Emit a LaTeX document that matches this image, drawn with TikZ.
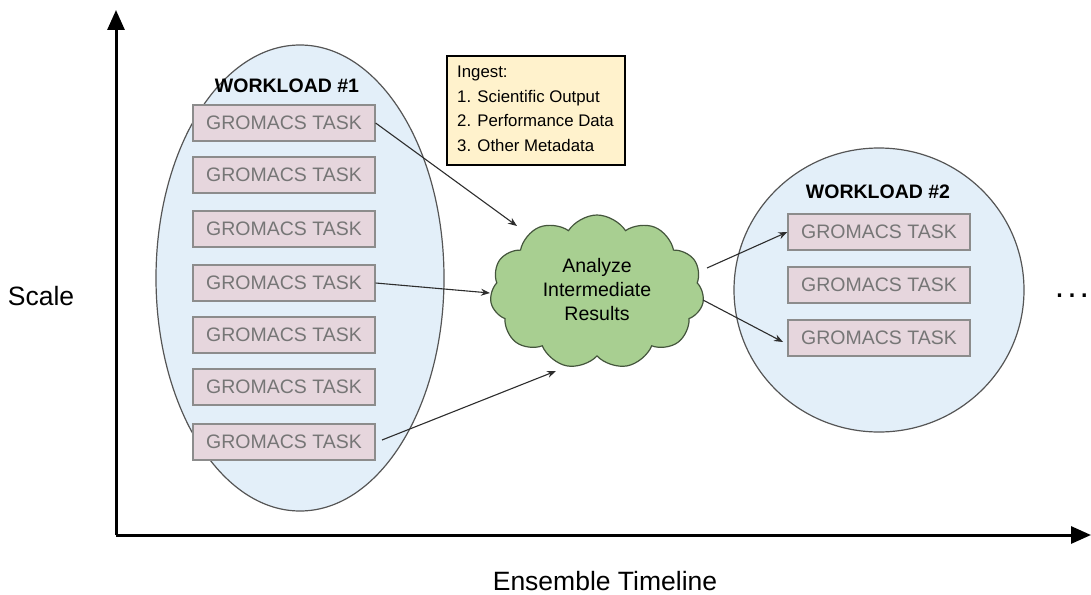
\documentclass[tikz,border=0pt]{standalone}
\usepackage{fontspec}
\setmainfont{Liberation Sans}
\usetikzlibrary{shapes.symbols,shapes.geometric,arrows.meta}
\definecolor{wlfill}{RGB}{227,239,249}
\definecolor{wlline}{RGB}{85,85,85}
\definecolor{taskfill}{RGB}{230,214,221}
\definecolor{taskline}{RGB}{140,140,140}
\definecolor{tasktext}{RGB}{118,118,118}
\definecolor{ingestfill}{RGB}{255,242,204}
\definecolor{cloudfill}{RGB}{168,207,145}
\definecolor{cloudline}{RGB}{68,85,60}
\definecolor{arrowcol}{RGB}{45,45,45}
\tikzset{
  workload/.style={ellipse, draw=wlline, line width=1.2pt, fill=wlfill, inner sep=0pt},
  taskbox/.style={rectangle, draw=taskline, line width=1.2pt, fill=taskfill, minimum width=182pt, minimum height=36pt, inner sep=0pt, text=tasktext, font=\fontsize{19.5}{21}\selectfont},
  wltitle/.style={font=\fontsize{19.5}{21}\selectfont\bfseries, inner sep=0pt},
  flow/.style={draw=arrowcol, line width=1.1pt, -{Stealth[length=9pt,width=7pt]}},
  axis/.style={line width=3pt, -{Triangle[length=20pt,width=17pt]}},
  axislabel/.style={font=\fontsize{26.5}{30}\selectfont, inner sep=0pt},
}
\begin{document}
\begin{tikzpicture}[x=1pt,y=-1pt]
\useasboundingbox (0,0) rectangle (1091,594);
% axes
\coordinate (origin) at (116,535);
\coordinate (ytip) at (116,10);
\coordinate (xtip) at (1091,535);
\draw[axis] (origin) -- (ytip);
\draw[axis] (origin) -- (xtip);
\node[axislabel] (scale) at (41,296) {Scale};
\node[axislabel] (timeline) at (605,581) {Ensemble Timeline};
% workload 1
\node[workload, minimum width=288pt, minimum height=466pt] (wl1) at (300,278) {};
\node[wltitle] (wl1t) at (287,86) {WORKLOAD \#1};
\foreach \i/\y in {1/123,2/175,3/229,4/283,5/335,6/387,7/442}{
  \node[taskbox] (a\i) at (284,\y) {GROMACS TASK};
}
% ingest box
\node[draw=black, line width=2.2pt, fill=ingestfill, minimum width=178pt, minimum height=109pt, inner sep=0pt] (ingest) at (536,110.5) {};
\node[anchor=north west, align=left, inner sep=0pt, font=\fontsize{16.8}{24.5}\selectfont] (ingesttxt) at (457,66) {Ingest:\\1. Scientific Output\\2. Performance Data\\3. Other Metadata};
% cloud
\node[cloud, cloud puffs=11, cloud puff arc=115, aspect=1.4, draw=cloudline, line width=1.2pt, fill=cloudfill, minimum width=214pt, minimum height=154pt, inner sep=0pt] (cloud) at (597,292) {};
\node[align=center, inner sep=0pt, font=\fontsize{19.5}{24}\selectfont] (cloudtxt) at (597,290) {Analyze\\Intermediate\\Results};
% workload 2
\node[workload, minimum width=290pt, minimum height=284pt] (wl2) at (879,290) {};
\node[wltitle] (wl2t) at (878,192) {WORKLOAD \#2};
\foreach \i/\y in {1/232,2/285,3/338}{
  \node[taskbox] (b\i) at (879,\y) {GROMACS TASK};
}
\node[font=\fontsize{34}{36}\selectfont, inner sep=0pt] (dots) at (1072,296) {.\kern3pt.\kern3pt.};
% arrow end points
\coordinate (c1) at (517,226);
\coordinate (c2) at (490,293);
\coordinate (c3) at (556,371);
\coordinate (s4) at (707,268);
\coordinate (s5) at (703,300);
\coordinate (e5) at (783,342);
\coordinate (s3) at (382,440);
\draw[flow] (a1.east) -- (c1);
\draw[flow] (a4.east) -- (c2);
\draw[flow] (s3) -- (c3);
\draw[flow] (s4) -- (b1.west);
\draw[flow] (s5) -- (e5);
\end{tikzpicture}
\end{document}
